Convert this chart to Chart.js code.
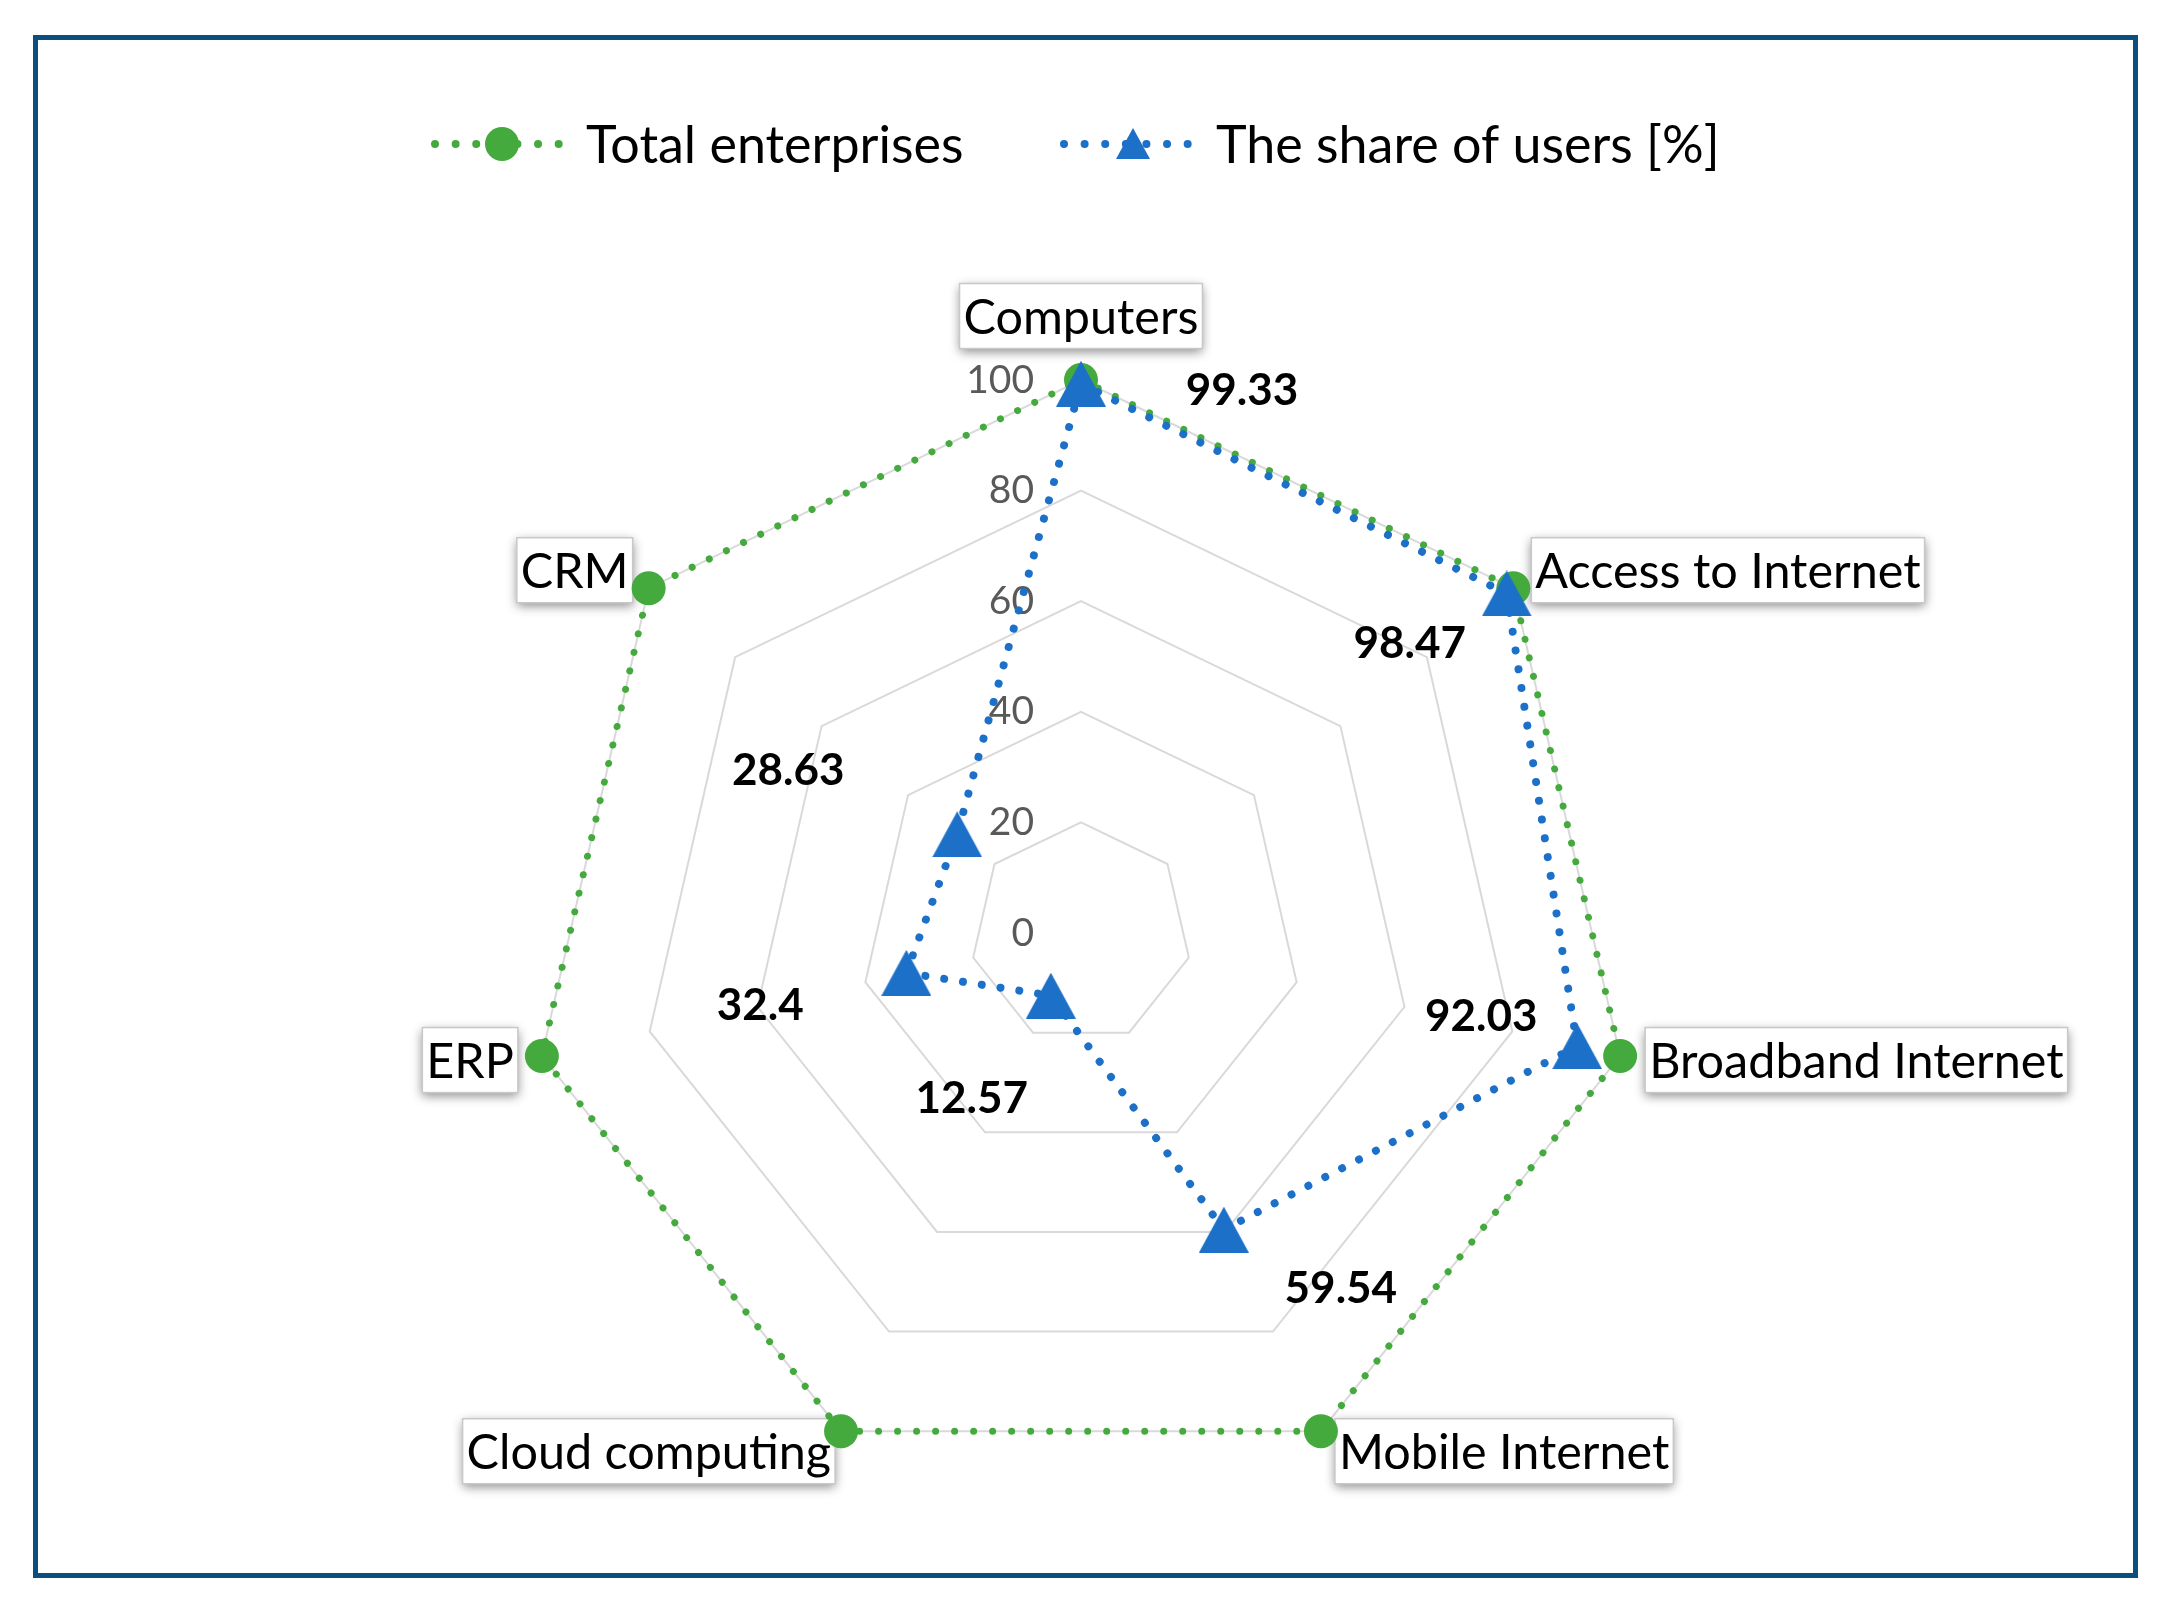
<!DOCTYPE html>
<html><head><meta charset="utf-8">
<script src="https://cdn.jsdelivr.net/npm/chart.js@4.4.1/dist/chart.umd.min.js"></script>
<style>html,body{margin:0;padding:0;background:#fff}#wrap{width:2167px;height:1609px;position:relative}</style>
</head><body><div id="wrap"><canvas id="c" width="2167" height="1609"></canvas></div>
<script>
// ---- data ----
const categories = ['Computers','Access to Internet','Broadband Internet','Mobile Internet','Cloud computing','ERP','CRM'];
const seriesNames = ['Total enterprises','The share of users [%]'];
const totalEnterprises = [100,100,100,100,100,100,100];
const shareOfUsers = [99.33,98.47,92.03,59.54,12.57,32.4,28.63];
const tickValues = [0,20,40,60,80,100];

// ---- styles ----
const GREEN = '#45AA3D', BLUE = '#1C70C8';
const FONT = 'Lato, "Open Sans", sans-serif';
const catLabelNudge = [[0,-64],[18,-18],[25,4],[14,20],[-6,20],[-24,4],[-16,-18]];
const valueLabelNudge = [[161,7],[-97,50],[-96,-29],[117,59],[-79,103],[-146,33],[-169,-63]];

function makeTriangle(w,h,color){
  const c=document.createElement('canvas'); c.width=w; c.height=h;
  const g=c.getContext('2d'); g.fillStyle=color; g.beginPath();
  g.moveTo(w/2,0); g.lineTo(w,h); g.lineTo(0,h); g.closePath(); g.fill(); return c;
}
const triPlot = makeTriangle(50,46,BLUE);
const triLegend = makeTriangle(34,31,BLUE);

function dots(ctx,x0,x1,y,color,w,gap){
  ctx.save(); ctx.strokeStyle=color; ctx.lineWidth=w; ctx.lineCap='round';
  ctx.setLineDash([0.01,gap]); ctx.beginPath(); ctx.moveTo(x0,y); ctx.lineTo(x1,y); ctx.stroke(); ctx.restore();
}

const decor = {
  id:'decor',
  beforeDatasetsDraw(chart){
    const ctx=chart.ctx, s=chart.scales.r;
    // tick labels
    ctx.save(); ctx.font='39px '+FONT; ctx.fillStyle='#595959'; ctx.textAlign='right'; ctx.textBaseline='middle';
    s.ticks.forEach(t=>{ const d=s.getDistanceFromCenterForValue(t.value); ctx.fillText(String(t.value), s.xCenter-47, s.yCenter-d); });
    ctx.restore();
    // category labels in boxes
    ctx.save(); ctx.font='48.5px '+FONT;
    categories.forEach((lab,i)=>{
      const p=s.getPointPosition(i,s.drawingArea); const [dx,dy]=catLabelNudge[i];
      const tw=ctx.measureText(lab).width, bw=tw+8, bh=65;
      let bx; if(i===0) bx=p.x-bw/2; else if(p.x>s.xCenter) bx=p.x+dx; else bx=p.x+dx-bw;
      const by=p.y+dy-bh/2;
      ctx.save(); ctx.shadowColor='rgba(0,0,0,0.45)'; ctx.shadowBlur=10; ctx.shadowOffsetY=3;
      ctx.fillStyle='#fff'; ctx.fillRect(bx,by,bw,bh); ctx.restore();
      ctx.strokeStyle='#C8C8C8'; ctx.lineWidth=1.5; ctx.strokeRect(bx,by,bw,bh);
      ctx.fillStyle='#000'; ctx.textAlign='left'; ctx.textBaseline='middle';
      ctx.fillText(lab,bx+4,by+bh/2+2);
    });
    ctx.restore();
  },
  afterDatasetsDraw(chart){
    const ctx=chart.ctx, s=chart.scales.r;
    ctx.save(); ctx.font='bold 44px '+FONT; ctx.fillStyle='#000'; ctx.textAlign='center'; ctx.textBaseline='middle';
    shareOfUsers.forEach((v,i)=>{
      const p=s.getPointPositionForValue(i,v); const [dx,dy]=valueLabelNudge[i];
      ctx.fillText(String(v),p.x+dx,p.y+dy);
    });
    ctx.restore();
  },
  afterDraw(chart){
    const ctx=chart.ctx;
    // legend
    const ly=144;
    ctx.save();
    dots(ctx,435,560,ly,GREEN,8,20.6);
    ctx.fillStyle=GREEN; ctx.beginPath(); ctx.arc(502,ly,17,0,Math.PI*2); ctx.fill();
    dots(ctx,1064,1192,ly,BLUE,8,20.6);
    ctx.drawImage(triLegend,1133-17,ly-16);
    ctx.font='52px '+FONT; ctx.fillStyle='#000'; ctx.textAlign='left'; ctx.textBaseline='middle';
    ctx.fillText(seriesNames[0],586,ly+2);
    ctx.fillText(seriesNames[1],1216,ly+2);
    // frame
    ctx.strokeStyle='#0B4F7E'; ctx.lineWidth=5; ctx.strokeRect(35.5,37.5,2100,1538);
    ctx.restore();
  }
};

new Chart(document.getElementById('c'),{
  type:'radar',
  data:{labels:categories,datasets:[
    {label:seriesNames[0],data:totalEnterprises,borderColor:GREEN,backgroundColor:GREEN,borderWidth:7,
     borderDash:[0.01,19],borderCapStyle:'round',fill:false,pointStyle:'circle',pointRadius:17,
     pointBackgroundColor:GREEN,pointBorderWidth:0,pointHoverRadius:17,order:2},
    {label:seriesNames[1],data:shareOfUsers,borderColor:BLUE,backgroundColor:BLUE,borderWidth:8,
     borderDash:[0.01,19],borderCapStyle:'round',fill:false,pointStyle:triPlot,pointRadius:25,
     pointBorderWidth:0,order:1}
  ]},
  options:{
    responsive:false, devicePixelRatio:1, animation:false,
    layout:{padding:{left:528,right:533,top:380,bottom:123}},
    plugins:{legend:{display:false},tooltip:{enabled:false},title:{display:false}},
    elements:{line:{tension:0}},
    scales:{r:{
      min:0,max:100,
      afterBuildTicks:sc=>{sc.ticks=tickValues.map(v=>({value:v}));},
      ticks:{display:false,stepSize:20},
      pointLabels:{display:false},
      angleLines:{display:false},
      grid:{color:'#D9D9D9',lineWidth:2,circular:false}
    }}
  },
  plugins:[decor]
});
</script></body></html>
